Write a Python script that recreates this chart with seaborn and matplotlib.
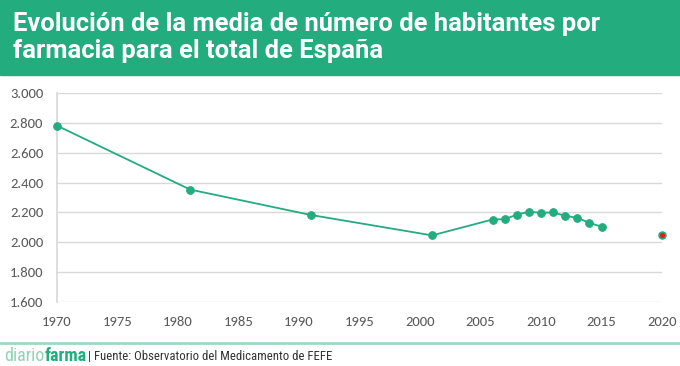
import numpy as np
import pandas as pd
import matplotlib
matplotlib.use("Agg")
import matplotlib.pyplot as plt
import seaborn as sns
from matplotlib.patches import Rectangle
from matplotlib.ticker import FuncFormatter

# data
years = [1970, 1981, 1991, 2001, 2006, 2007, 2008, 2009, 2010, 2011, 2012, 2013, 2014, 2015]
habitantes = [2780, 2353, 2183, 2047, 2153, 2155, 2185, 2205, 2198, 2200, 2178, 2164, 2131, 2105]
year_2020 = [2020]
habitantes_2020 = [2047]
x_ticks = [1970, 1975, 1980, 1985, 1990, 1995, 2000, 2005, 2010, 2015, 2020]
y_ticks = [1600, 1800, 2000, 2200, 2400, 2600, 2800, 3000]

title_lines = ["Evolución de la media de número de habitantes por",
               "farmacia para el total de España"]
fuente = "Fuente: Observatorio del Medicamento de FEFE"

GREEN = "#23AC7D"
RED = "#E3201C"
GREY = "#595959"
NARROW = ["Roboto Condensed", "PT Sans Narrow", "Fira Sans Condensed", "Archivo Narrow", "DejaVu Sans"]

sns.set_theme(style="white")
plt.rcParams['font.family'] = ['Carlito', 'Lato', 'DejaVu Sans']

df = pd.DataFrame({"year": years, "hab": habitantes})
df20 = pd.DataFrame({"year": year_2020, "hab": habitantes_2020})

fig = plt.figure(figsize=(6.8, 3.66), dpi=100)
ax = fig.add_axes([57 / 680, 63.7 / 366, 605 / 680, 209.6 / 366])

# header band
fig.patches.append(Rectangle((0, 1 - 75 / 366), 1, 75 / 366, transform=fig.transFigure,
                             color=GREEN, zorder=0))
for line, base in zip(title_lines, [31, 58]):
    fig.text(13 / 680, 1 - base / 366, line, color="white", fontsize=18.4, fontweight="bold",
             family=["Roboto", "DejaVu Sans"], va="baseline", ha="left")

sns.lineplot(data=df, x="year", y="hab", ax=ax, color=GREEN, lw=1.3,
             marker="o", markersize=5.5, markeredgecolor=GREEN, zorder=3, clip_on=False)
sns.scatterplot(data=df20, x="year", y="hab", ax=ax, color=RED, s=24,
                edgecolor=GREEN, linewidth=1.2, zorder=4, clip_on=False)

ax.set_xlim(1970, 2020)
ax.set_ylim(1600, 3000)
ax.set_xticks(x_ticks)
ax.set_yticks(y_ticks)
ax.yaxis.set_major_formatter(FuncFormatter(lambda v, p: f"{v / 1000:.3f}"))
ax.set_xlabel("")
ax.set_ylabel("")
ax.grid(axis="y", color="#D9D9D9", lw=1)
ax.set_axisbelow(True)
for s in ["top", "right", "bottom"]:
    ax.spines[s].set_visible(False)
ax.spines["left"].set_color("#D9D9D9")
ax.tick_params(axis="both", colors=GREY, labelsize=10.5, length=0)
ax.tick_params(axis="y", pad=10)
ax.tick_params(axis="x", pad=10)

# footer
fig.add_artist(plt.Line2D([0, 1], [1 - 343 / 366] * 2, transform=fig.transFigure,
                          color="#9ED8C0", lw=2))
fig.canvas.draw()
r = fig.canvas.get_renderer()
x0 = 4 / 680
yb = 1 - 356 / 366
t1 = fig.text(x0, yb, "diario", color="#8FD3B6", fontsize=13, va="center", family=NARROW)
bb = t1.get_window_extent(r).transformed(fig.transFigure.inverted())
t2 = fig.text(bb.x1, yb, "farma", color=GREEN, fontsize=13, fontweight="bold", va="center",
              family=NARROW)
bb = t2.get_window_extent(r).transformed(fig.transFigure.inverted())
fig.text(bb.x1 + 2 / 680, yb, "| " + fuente, color="#333333", fontsize=9.2, va="center",
         family=NARROW)

fig.savefig("out.png", dpi=100)
